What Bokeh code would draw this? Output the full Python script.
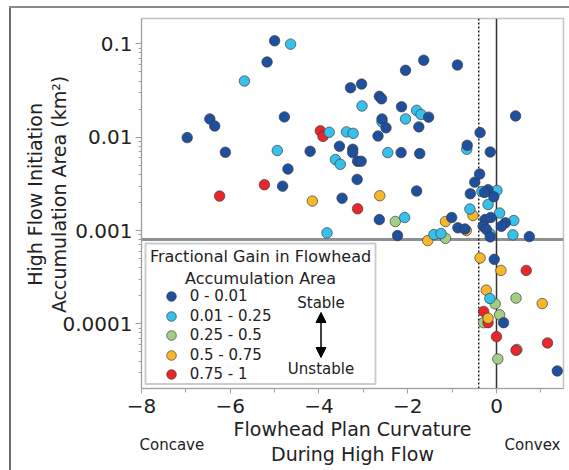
from bokeh.plotting import figure
from bokeh.models import (Range1d, FixedTicker, Span, Label, BoxAnnotation, Arrow,
                          NormalHead, Legend, LegendItem)
from bokeh.embed import file_html
from bokeh.resources import INLINE

# ---------------- data ----------------
categories = ["0 - 0.01", "0.01 - 0.25", "0.25 - 0.5", "0.5 - 0.75", "0.75 - 1"]
colors = ["#1f4f9f", "#37c0ea", "#a2cf83", "#f6b82a", "#e8262b"]

x_db = [-5.00, -5.17, -6.46, -6.35, -4.78, -6.97, -6.11, -4.20, -4.70, -4.82, -3.54, -3.48,
        -1.64, -2.05, -0.88, -3.29, -3.04, -2.64, -2.59, -2.14, -1.53, -2.58, -2.49, -1.75,
        -2.67, -3.24, -3.24, -2.15, -1.73, -3.13, -3.05, -3.14, -1.80, -2.64, -2.23, -1.01,
        -0.87, -0.71, -0.59, -0.49, -0.66, -0.37, 0.43, -0.14, -0.38, -0.19, -0.06, -0.26,
        -0.13, 0.20, 0.11, -0.30, -0.23, -0.14, 0.74, -0.05, 0.16, 1.37, -0.27]
y_db = [0.108, 0.064, 0.0157, 0.0132, 0.0165, 0.0099, 0.0069, 0.00707, 0.00456, 0.00299, 0.0080, 0.00222,
        0.0668, 0.0521, 0.0594, 0.0339, 0.0371, 0.0274, 0.0258, 0.0212, 0.0164, 0.0157, 0.0126, 0.0129,
        0.0103, 0.00743, 0.00684, 0.00684, 0.00668, 0.00552, 0.00552, 0.00353, 0.00265, 0.00131, 0.000883, 0.00138,
        0.00107, 0.00104, 0.00248, 0.00330, 0.0082, 0.0112, 0.0169, 0.00695, 0.00403, 0.00274, 0.00230, 0.00131,
        0.00138, 0.00121, 0.00111, 0.00111, 0.00103, 0.000855, 0.000861, 0.000491, 0.000103, 0.0000313, 0.00256]

x_lb = [-4.64, -5.68, -3.77, -4.94, -3.82, -3.63, -3.52, -3.03, -1.80, -1.70, -2.05, -2.58, -3.38, -3.23,
        -2.45, -2.07, -1.41, -1.25, -0.60, -0.67, -0.33, 0.01, -0.19, 0.07, 0.39, -0.14, 0.37, -0.15]
y_lb = [0.0993, 0.040, 0.0113, 0.0072, 0.000944, 0.00576, 0.00513, 0.0216, 0.0194, 0.0175, 0.0157, 0.0146,
        0.0114, 0.0110, 0.00684, 0.00138, 0.000905, 0.000929, 0.00170, 0.00743, 0.00262, 0.00269, 0.00190,
        0.00154, 0.00128, 0.000921, 0.000899, 0.000187]

x_lg = [-2.28, -1.15, -0.03, 0.44, -0.29, 0.07, 0.46, 0.03]
y_lg = [0.00125, 0.000826, 0.000164, 0.000189, 0.000103, 0.000125, 0.0000532, 0.0000421]

x_ye = [-4.15, -2.63, -1.55, -1.15, -0.68, -0.53, -0.37, 0.10, -0.23, 1.03, -0.19]
y_ye = [0.00207, 0.00236, 0.000780, 0.00125, 0.00100, 0.00145, 0.000508, 0.000374, 0.000230, 0.000165, 0.000115]

x_rd = [-3.97, -3.91, -5.23, -6.24, -3.13, 0.67, -0.29, -0.19, 0.00, 0.44, 1.15]
y_rd = [0.0117, 0.0102, 0.00310, 0.00234, 0.00171, 0.000374, 0.000136, 0.000103, 0.0000730, 0.0000521, 0.0000625]

x_ticks = [-8, -6, -4, -2, 0]
x_minor = [-7, -5, -3, -1, 1]
y_ticks = [0.0001, 0.001, 0.01, 0.1]
y_tick_labels = ["0.0001", "0.001", "0.01", "0.1"]
y_minor = [m * d for d in [1e-5, 1e-4, 1e-3, 1e-2, 1e-1] for m in range(2, 10)]

threshold_area = 0.0008
threshold_curv = -0.4

FONT = "DejaVu Sans"
TXT = "#222222"
NB = "\u00a0"

p = figure(width=569, height=470, output_backend="svg", toolbar_location=None,
           x_range=Range1d(-8, 1.51), y_range=Range1d(2.03e-5, 0.187), y_axis_type="log",
           min_border_left=141, min_border_right=6, min_border_top=16, min_border_bottom=82)

p.border_fill_alpha = 0
p.styles = {
    "background-color": "white",
    "background-image": "linear-gradient(#8a8a8a, #8a8a8a), linear-gradient(#6e6e6e, #6e6e6e)",
    "background-size": "calc(100% - 9px) 2px, 2px calc(100% - 6px)",
    "background-position": "9px 6px, 9px 6px",
    "background-repeat": "no-repeat",
}

p.grid.visible = False
p.outline_line_color = "#c4c4c4"
p.outline_line_width = 1.5

p.xaxis.ticker = FixedTicker(ticks=x_ticks, minor_ticks=x_minor)
p.yaxis.ticker = FixedTicker(ticks=y_ticks, minor_ticks=y_minor)
p.yaxis.major_label_overrides = {t: l for t, l in zip(y_ticks, y_tick_labels)}

for ax in (p.xaxis, p.yaxis):
    ax.axis_line_color = "#a0a0a0"
    ax.major_tick_line_color = "#a0a0a0"
    ax.minor_tick_line_color = "#a0a0a0"
    ax.major_tick_in = 0
    ax.minor_tick_in = 0
    ax.major_label_text_font = FONT
    ax.major_label_text_font_size = "20px"
    ax.major_label_text_color = TXT
    ax.axis_label_text_font = FONT
    ax.axis_label_text_font_size = "19px"
    ax.axis_label_text_font_style = "normal"
    ax.axis_label_text_color = TXT

p.xaxis.major_tick_out = 5
p.xaxis.minor_tick_out = 4
p.xaxis.major_label_standoff = 5
p.xaxis.axis_label = "Flowhead Plan Curvature\nDuring High Flow"
p.xaxis.axis_label_standoff = 2
p.xaxis.axis_label_text_line_height = 1.15

p.yaxis.major_tick_out = 6
p.yaxis.minor_tick_out = 3
p.yaxis.major_label_standoff = 3
p.yaxis.axis_label = NB * 3 + "High Flow Initiation\n" + NB * 3 + "Accumulation Area (km\u00b2)"
p.yaxis.axis_label_standoff = -10
p.yaxis.axis_label_text_line_height = 1.05

# reference lines
p.add_layout(Span(location=threshold_area, dimension="width", line_color="#8c9292",
                  line_width=3, level="underlay"))
p.add_layout(Span(location=0, dimension="height", line_color="#333333",
                  line_width=1.5, level="underlay"))
p.add_layout(Span(location=threshold_curv, dimension="height", line_color="#222222",
                  line_width=1.5, line_dash="2 2", level="underlay"))

# points
series = {
    "lg": (x_lg, y_lg, colors[2]),
    "rd": (x_rd, y_rd, colors[4]),
    "ye": (x_ye, y_ye, colors[3]),
    "lb": (x_lb, y_lb, colors[1]),
    "db": (x_db, y_db, colors[0]),
}
rends = {}
for key, (xs, ys, c) in series.items():
    rends[key] = p.scatter(xs, ys, size=10.5, fill_color=c, line_color="#3a3a3a",
                           line_width=0.8, line_alpha=0.85)

# legend box
p.add_layout(BoxAnnotation(left=4, right=234, bottom=4.5, top=145,
                           left_units="screen", right_units="screen",
                           top_units="screen", bottom_units="screen",
                           fill_color="white", fill_alpha=1.0,
                           line_color="#555555", line_width=2))

order = ["db", "lb", "lg", "ye", "rd"]
legend_style = dict(glyph_width=24, glyph_height=24, spacing=15, label_standoff=7,
                    padding=0, margin=0, border_line_alpha=0, background_fill_alpha=0,
                    label_text_font=FONT, label_text_font_size="15px", label_text_color=TXT)
# two interleaved legends give a 19.5px row pitch with 24px swatch cells
leg_a = Legend(items=[LegendItem(label=categories[i], renderers=[rends[order[i]]]) for i in (0, 2, 4)],
               location=(17.7, 2), **legend_style)
leg_b = Legend(items=[LegendItem(label=categories[i], renderers=[rends[order[i]]]) for i in (1, 3)],
               location=(17.7, 21.5), **legend_style)
p.add_layout(leg_a)
p.add_layout(leg_b)

def lab(text, x, y, size, align="center", where="center"):
    p.add_layout(Label(x=x, y=y, x_units="screen", y_units="screen", text=text,
                       text_font=FONT, text_font_size=size, text_color=TXT,
                       text_align=align, text_baseline="alphabetic"), where)

lab("Fractional Gain in Flowhead", 119, 132, "16px")
lab("Accumulation Area", 119, 110, "16px")
lab("Stable", 179.5, 86, "15px")
lab("Unstable", 179.5, 19.5, "15px")

# side labels under the axis (placed through a side panel so they are not clipped)
lab("Concave" + NB * 63 + "Convex", -2, 18 - 449.5 + 5, "15px", align="left", where="above")

p.add_layout(Arrow(x_start=179.5, y_start=31, x_end=179.5, y_end=76,
                   start_units="screen", end_units="screen",
                   line_color="black", line_width=1.5,
                   start=NormalHead(size=10, fill_color="black", line_color="black"),
                   end=NormalHead(size=10, fill_color="black", line_color="black")))

open("out.html", "w").write(file_html(p, INLINE))
